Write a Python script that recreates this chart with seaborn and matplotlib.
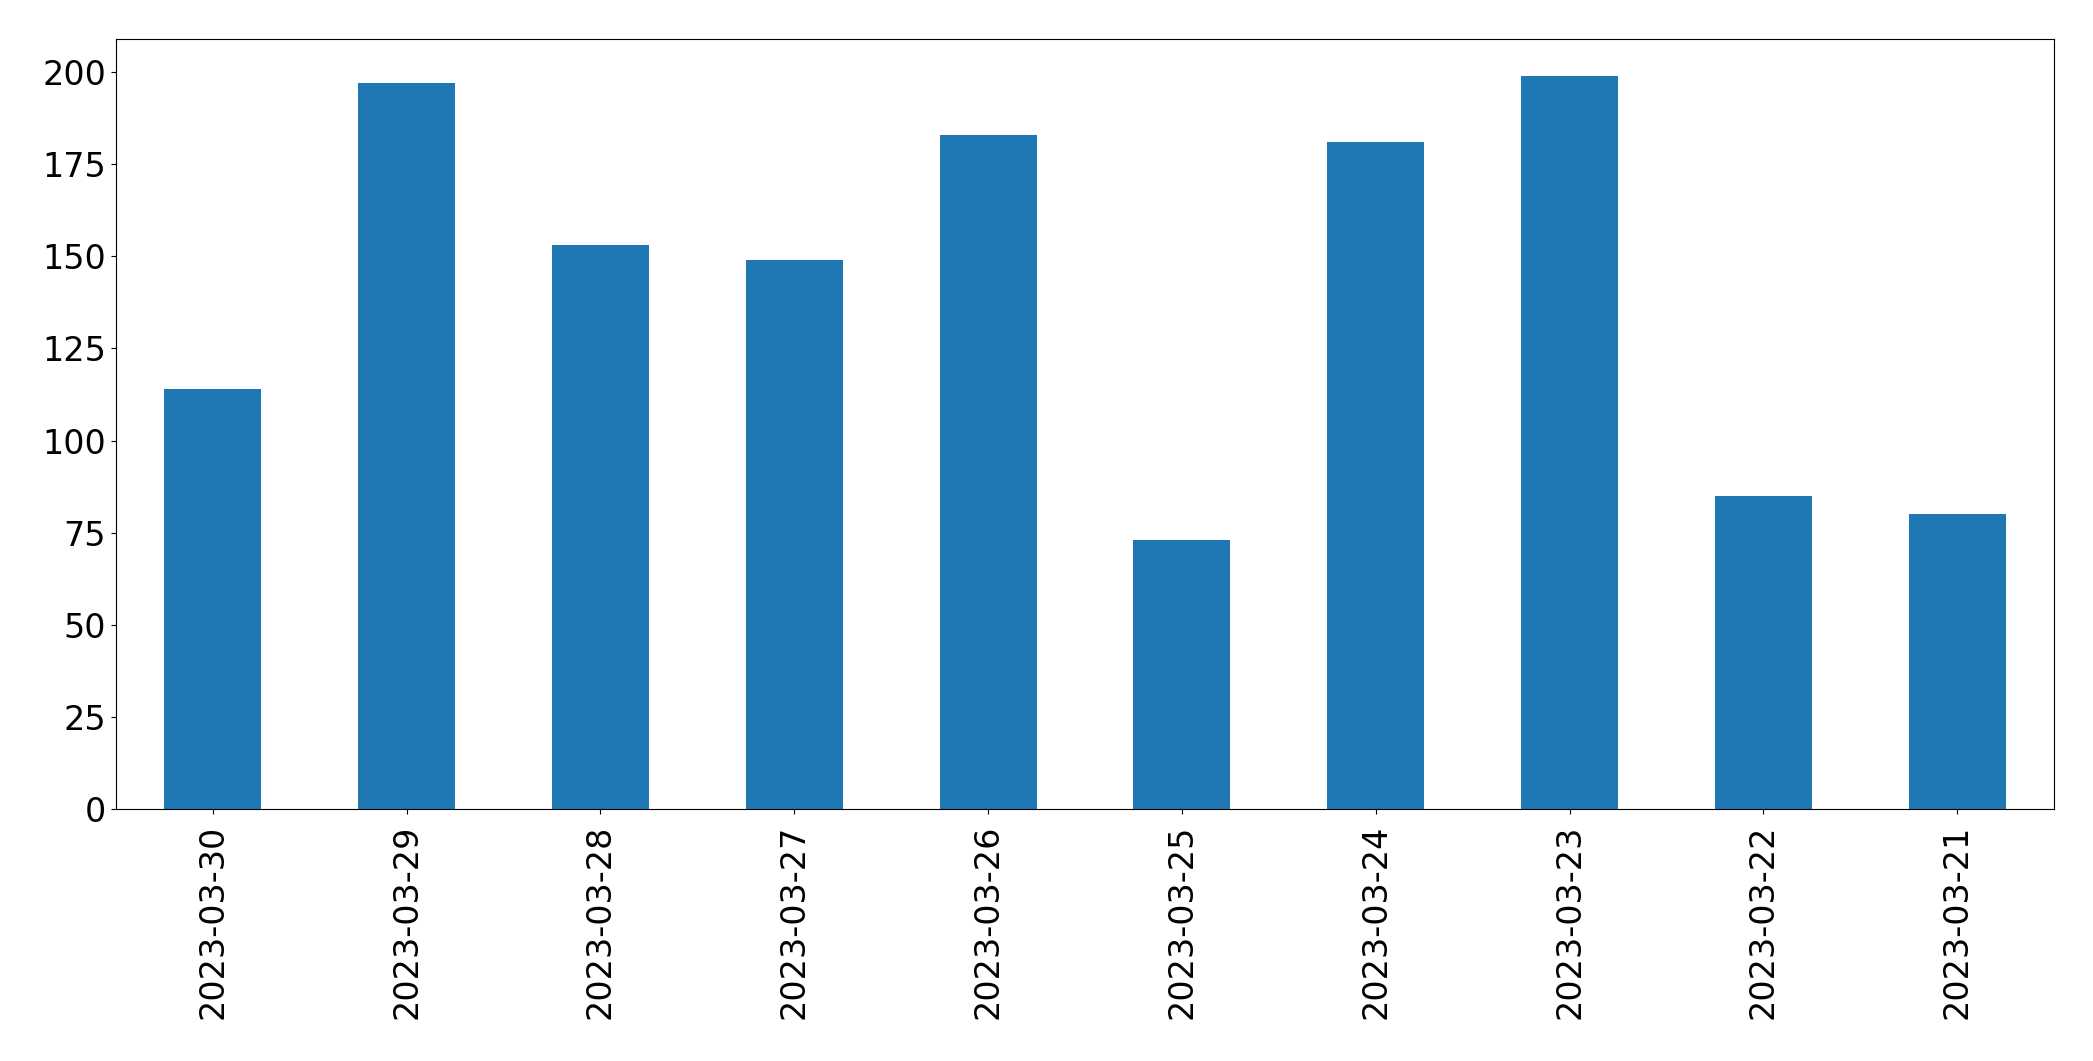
import pandas as pd
import matplotlib
matplotlib.use("Agg")
import matplotlib.pyplot as plt
import seaborn as sns

# Values
dates = ['2023-03-30', '2023-03-29', '2023-03-28', '2023-03-27', '2023-03-26',
         '2023-03-25', '2023-03-24', '2023-03-23', '2023-03-22', '2023-03-21']
counts = [114, 197, 153, 149, 183, 73, 181, 199, 85, 80]

df = pd.DataFrame({'date': dates, 'count': counts})

fig = plt.figure(figsize=(20.93, 10.61), dpi=100)
ax = fig.add_axes([0.0554, 0.2375, 0.9260, 0.7257])

sns.barplot(data=df, x='date', y='count', order=dates, color='#1f77b4',
            saturation=1, width=0.5, ax=ax)

ax.set_xlabel('')
ax.set_ylabel('')
ax.set_xlim(-0.5, len(dates) - 0.5)
ax.set_ylim(0, max(counts) * 1.05)
ax.tick_params(axis='both', labelsize=24)
ax.tick_params(axis='x', pad=8)
plt.xticks(rotation=90)

plt.savefig('out.png', dpi=100)
